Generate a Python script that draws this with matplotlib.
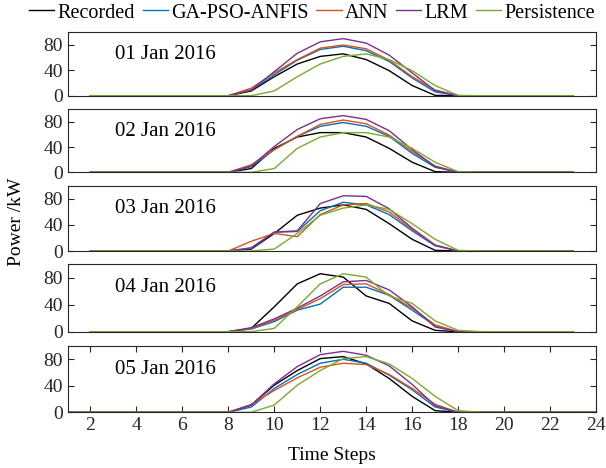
import numpy as np
import matplotlib
matplotlib.use("Agg")
import matplotlib.pyplot as plt

plt.rcParams['font.family'] = ['Liberation Serif', 'DejaVu Serif']

steps = np.arange(1, 25)
days = ["01 Jan 2016", "02 Jan 2016", "03 Jan 2016", "04 Jan 2016", "05 Jan 2016"]
names = ["Recorded", "GA-PSO-ANFIS", "ANN", "LRM", "Persistence"]
colors = ["#000000", "#0072BD", "#D95319", "#7E2F8E", "#77AC30"]

z7 = [0, 0, 0, 0, 0, 0, 0]
z6 = [0, 0, 0, 0, 0, 0]

# day 1
rec1 = z7 + [0, 7.5, 30, 50, 62, 66, 57, 39.5, 16, 0.5, 0] + z6
ga1 = z7 + [0, 9, 33, 56, 73, 78, 71, 54, 28, 6, 0] + z6
ann1 = z7 + [0, 12, 36, 57, 75, 80, 74, 56, 30, 9, 0] + z6
lrm1 = z7 + [0, 9, 38, 67, 85, 90, 83, 64, 36, 8, 0] + z6
per1 = z7 + [0, 0, 7.5, 30, 50, 62, 66, 57, 39.5, 16, 0.5] + z6
# day 2
rec2 = z7 + [0, 6, 38, 56, 63, 63, 56, 38, 16, 1, 0] + z6
ga2 = z7 + [0, 9, 36, 57, 73, 79, 73, 57, 30, 8, 0] + z6
ann2 = z7 + [0, 12, 36, 57, 76, 83, 77, 59, 33, 10, 0] + z6
lrm2 = z7 + [0, 10, 41, 68, 85, 90, 84, 66, 36, 9, 0] + z6
per2 = z7 + [0, 0, 6, 38, 56, 63, 63, 56, 38, 16, 1] + z6
# day 3
rec3 = z7 + [0, 3, 27, 55, 66, 71, 64, 42, 18, 1, 0] + z6
ga3 = z7 + [0, 4, 29, 30, 62, 75, 71, 56, 31, 8, 0] + z6
ann3 = z7 + [0, 15, 27, 22, 56, 71, 73, 60, 33, 9, 0] + z6
lrm3 = z7 + [0, 5, 29, 31, 73, 85, 84, 65, 35, 9, 0] + z6
per3 = z7 + [0, 0, 3, 27, 55, 66, 71, 64, 42, 18, 1] + z6
# day 4
rec4 = z7 + [0, 5, 37, 71, 86, 81, 53, 42, 16, 2, 0] + z6
ga4 = z7 + [0, 4, 15, 32, 41, 66, 66, 54, 32, 9, 0] + z6
ann4 = z7 + [0, 5, 17, 33, 49, 70, 71, 55, 35, 10, 0] + z6
lrm4 = z7 + [0, 6, 19, 35, 53, 74, 76, 62, 37, 7, 0] + z6
per4 = z7 + [0, 0, 5, 37, 71, 86, 81, 53, 42, 16, 2] + z6
# day 5
rec5 = z7 + [0, 11, 41, 63, 81, 84, 73, 51, 24, 2.5, 0] + z6
ga5 = z7 + [0, 8, 36, 57, 74, 80, 74, 56, 34, 8, 0] + z6
ann5 = z7 + [0, 12, 33, 52, 68, 74, 72, 57, 36, 12, 0] + z6
lrm5 = z7 + [0, 11, 43, 69, 87, 92, 86, 70, 42, 10, 0] + z6
per5 = z7 + [0, 0, 11, 41, 63, 81, 84, 73, 51, 24, 2.5] + z6

series = [
    [rec1, ga1, ann1, lrm1, per1],
    [rec2, ga2, ann2, lrm2, per2],
    [rec3, ga3, ann3, lrm3, per3],
    [rec4, ga4, ann4, lrm4, per4],
    [rec5, ga5, ann5, lrm5, per5],
]

W, H = 606, 468
fig = plt.figure(figsize=(W / 100, H / 100), dpi=100)

# panel top/bottom in pixels
panels_px = [(32.3, 95.7), (109.3, 172.3), (186, 251), (264.3, 331.7), (346, 412.3)]
left_px, right_px = 67.5, 596

axc = "#262626"
for i, (top, bot) in enumerate(panels_px):
    ax = fig.add_axes([left_px / W, 1 - bot / H, (right_px - left_px) / W, (bot - top) / H])
    last = i == len(panels_px) - 1
    for vals, c, n in zip(series[i], colors, names):
        if last:
            ax.plot(steps, vals, color=c, lw=1.0, label=n)
        else:
            ax.plot(steps[1:23], vals[1:23], color=c, lw=1.0, label=n)
    ax.set_xlim(1, 24)
    ax.set_ylim(0, 100)
    ax.set_yticks([0, 40, 80])
    ax.tick_params(axis='y', direction='in', right=True, length=4, labelsize=14, colors=axc, labelcolor=axc)
    if last:
        ax.set_xticks(np.arange(2, 25, 2))
        ax.tick_params(axis='x', direction='in', top=True, length=4, labelsize=14, colors=axc, labelcolor=axc)
    else:
        ax.set_xticks([])
    for s in ax.spines.values():
        s.set_color(axc)
        s.set_linewidth(0.8)
    ax.text(0.09, 0.65, days[i], transform=ax.transAxes, fontsize=15, va='center', ha='left')
    if i == 0:
        handles, labels = ax.get_legend_handles_labels()

fig.legend(handles, labels, loc='center', bbox_to_anchor=(312 / W, 1 - 13 / H), ncol=5,
           frameon=False, fontsize=14.5, handlelength=1.25, handletextpad=0.15, columnspacing=0.4,
           borderaxespad=0, borderpad=0)

fig.text(17 / W, 1 - 222 / H, "Power /kW", rotation=90, fontsize=14, va='center', ha='center')
fig.text((left_px + right_px) / 2 / W, 1 - 455 / H, "Time Steps", fontsize=14, va='center', ha='center')

fig.savefig("out.png", dpi=100)
